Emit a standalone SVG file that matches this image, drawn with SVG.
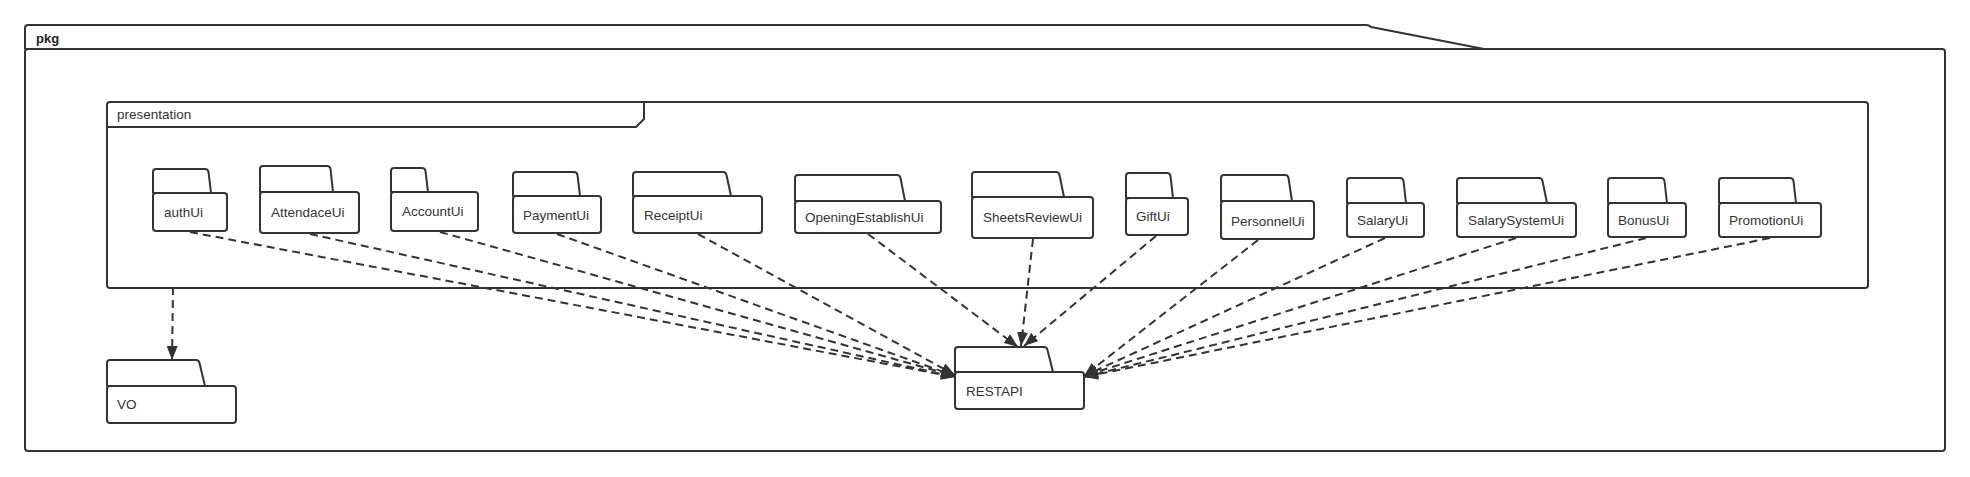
<svg xmlns="http://www.w3.org/2000/svg" width="1970" height="477" viewBox="0 0 1970 477">
<style>
.fr{fill:#fff;stroke:#333;stroke-width:2;stroke-linejoin:round}
.ln{fill:none;stroke:#333;stroke-width:2}
.t{font-family:"Liberation Sans",Arial,sans-serif;font-size:13.5px;fill:#333}
.b{font-weight:bold;font-size:13px;fill:#222}
.c{fill:none;stroke:#333;stroke-width:2;stroke-dasharray:8 5}
</style>
<defs>
<marker id="ah" markerUnits="userSpaceOnUse" markerWidth="15" markerHeight="11" refX="14" refY="5.5" orient="auto">
<path d="M0,0 L14,5.5 L0,11 z" fill="#333"/>
</marker>
</defs>
<rect width="1970" height="477" fill="#fff"/>
<g id="pkg">
<path class="fr" d="M25,49 L25,28 Q25,25 28,25 L1366,25 Q1369,25 1371,27 L1484,49 Z"/>
<rect class="fr" x="25" y="49" width="1920" height="402" rx="3"/>
<text class="t b" x="36" y="43">pkg</text>
</g>
<g id="presentation">
<rect class="fr" x="107" y="102" width="1761" height="186" rx="3"/>
<path class="ln" d="M107,127 L636,127 L644,119 L644,102"/>
<text class="t" x="117" y="119">presentation</text>
</g>
<g id="authUi">
<path class="fr" d="M153,193 L153,172 Q153,169 156,169 L205,169 Q208,169 208.5,172 L211,193 Z"/>
<rect class="fr" x="153" y="193" width="74" height="38" rx="3"/>
<text class="t" x="164" y="217">authUi</text>
</g>
<g id="AttendaceUi">
<path class="fr" d="M260,192 L260,169 Q260,166 263,166 L327,166 Q330,166 330.5,169 L333,192 Z"/>
<rect class="fr" x="260" y="192" width="99" height="41" rx="3"/>
<text class="t" x="271" y="217">AttendaceUi</text>
</g>
<g id="AccountUi">
<path class="fr" d="M391,192 L391,171 Q391,168 394,168 L422,168 Q425,168 425.5,171 L428,192 Z"/>
<rect class="fr" x="391" y="192" width="87" height="39" rx="3"/>
<text class="t" x="402" y="216">AccountUi</text>
</g>
<g id="PaymentUi">
<path class="fr" d="M513,196 L513,175 Q513,172 516,172 L574,172 Q577,172 577.5,175 L580,196 Z"/>
<rect class="fr" x="513" y="196" width="88" height="37" rx="3"/>
<text class="t" x="523" y="220">PaymentUi</text>
</g>
<g id="ReceiptUi">
<path class="fr" d="M633,196 L633,175 Q633,172 636,172 L723,172 Q726,172 726.5,175 L731,196 Z"/>
<rect class="fr" x="633" y="196" width="129" height="37" rx="3"/>
<text class="t" x="644" y="220">ReceiptUi</text>
</g>
<g id="OpeningEstablishUi">
<path class="fr" d="M795,201 L795,178 Q795,175 798,175 L897,175 Q900,175 900.5,178 L905,201 Z"/>
<rect class="fr" x="795" y="201" width="146" height="32" rx="3"/>
<text class="t" x="805" y="222">OpeningEstablishUi</text>
</g>
<g id="SheetsReviewUi">
<path class="fr" d="M972,197 L972,175 Q972,172 975,172 L1056,172 Q1059,172 1059.5,175 L1064,197 Z"/>
<rect class="fr" x="972" y="197" width="121" height="41" rx="3"/>
<text class="t" x="983" y="222">SheetsReviewUi</text>
</g>
<g id="GiftUi">
<path class="fr" d="M1126,198 L1126,176 Q1126,173 1129,173 L1167,173 Q1170,173 1170.5,176 L1173,198 Z"/>
<rect class="fr" x="1126" y="198" width="62" height="37" rx="3"/>
<text class="t" x="1136" y="221">GiftUi</text>
</g>
<g id="PersonnelUi">
<path class="fr" d="M1221,201 L1221,178 Q1221,175 1224,175 L1285,175 Q1288,175 1288.5,178 L1292,201 Z"/>
<rect class="fr" x="1221" y="201" width="93" height="38" rx="3"/>
<text class="t" x="1231" y="226">PersonnelUi</text>
</g>
<g id="SalaryUi">
<path class="fr" d="M1347,203 L1347,181 Q1347,178 1350,178 L1400,178 Q1403,178 1403.5,181 L1406,203 Z"/>
<rect class="fr" x="1347" y="203" width="77" height="34" rx="3"/>
<text class="t" x="1357" y="225">SalaryUi</text>
</g>
<g id="SalarySystemUi">
<path class="fr" d="M1457,203 L1457,181 Q1457,178 1460,178 L1539,178 Q1542,178 1542.5,181 L1547,203 Z"/>
<rect class="fr" x="1457" y="203" width="119" height="34" rx="3"/>
<text class="t" x="1468" y="225">SalarySystemUi</text>
</g>
<g id="BonusUi">
<path class="fr" d="M1608,203 L1608,181 Q1608,178 1611,178 L1661,178 Q1664,178 1664.5,181 L1667,203 Z"/>
<rect class="fr" x="1608" y="203" width="78" height="34" rx="3"/>
<text class="t" x="1618" y="225">BonusUi</text>
</g>
<g id="PromotionUi">
<path class="fr" d="M1719,203 L1719,181 Q1719,178 1722,178 L1790,178 Q1793,178 1793.5,181 L1796,203 Z"/>
<rect class="fr" x="1719" y="203" width="102" height="34" rx="3"/>
<text class="t" x="1729" y="225">PromotionUi</text>
</g>
<g id="VO">
<path class="fr" d="M107,386 L107,363 Q107,360 110,360 L196,360 Q199,360 199.5,363 L205,386 Z"/>
<rect class="fr" x="107" y="386" width="129" height="37" rx="3"/>
<text class="t" x="117" y="409">VO</text>
</g>
<g id="RESTAPI">
<path class="fr" d="M955,372 L955,350 Q955,347 958,347 L1044,347 Q1047,347 1047.5,350 L1053,372 Z"/>
<rect class="fr" x="955" y="372" width="129" height="37" rx="3"/>
<text class="t" x="966" y="396">RESTAPI</text>
</g>
<g id="connectors">
<line class="c" x1="173" y1="287" x2="172" y2="360" marker-end="url(#ah)"/>
<line class="c" x1="190" y1="232" x2="955" y2="377" marker-end="url(#ah)"/>
<line class="c" x1="310" y1="234" x2="955" y2="377" marker-end="url(#ah)"/>
<line class="c" x1="440" y1="232" x2="955" y2="376" marker-end="url(#ah)"/>
<line class="c" x1="557" y1="234" x2="955" y2="376" marker-end="url(#ah)"/>
<line class="c" x1="698" y1="234" x2="955" y2="375" marker-end="url(#ah)"/>
<line class="c" x1="868" y1="234" x2="1018" y2="347" marker-end="url(#ah)"/>
<line class="c" x1="1033" y1="239" x2="1021" y2="346" marker-end="url(#ah)"/>
<line class="c" x1="1156" y1="236" x2="1024" y2="346" marker-end="url(#ah)"/>
<line class="c" x1="1258" y1="240" x2="1084" y2="376" marker-end="url(#ah)"/>
<line class="c" x1="1385" y1="238" x2="1084" y2="376" marker-end="url(#ah)"/>
<line class="c" x1="1516" y1="238" x2="1084" y2="376" marker-end="url(#ah)"/>
<line class="c" x1="1646" y1="238" x2="1084" y2="377" marker-end="url(#ah)"/>
<line class="c" x1="1770" y1="238" x2="1084" y2="377" marker-end="url(#ah)"/>
</g>
</svg>
